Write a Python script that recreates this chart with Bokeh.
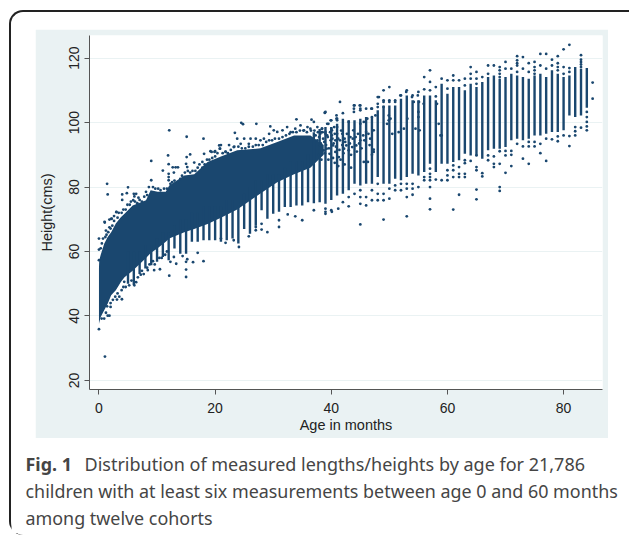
from bokeh.plotting import figure
from bokeh.layouts import column
from bokeh.core.properties import value
from bokeh.models import Range1d, FixedTicker
from bokeh.embed import file_html
from bokeh.resources import INLINE

x_ticks = [0, 20, 40, 60, 80]
y_ticks = [20, 40, 60, 80, 100, 120]
x_title = "Age in months"
y_title = "Height(cms)"
caption_bold = "Fig. 1"
caption_line1 = "Distribution of measured lengths/heights by age for 21,786"
caption_line2 = "children with at least six measurements between age 0 and 60 months"
caption_line3 = "among twelve cohorts"

# Solid cloud of the young ages: outer limits
band_age = [0, 0.05, 0.3, 0.9, 1.5, 2.1, 2.9, 3.8, 4.4, 5.8, 8.1, 8.9, 10.1, 11.5, 12.1, 14.7, 16.4, 18.7, 21, 23.8, 27.8, 30.7, 33.6, 36.4, 38.7]
band_high = [55, 57.3, 59, 62.4, 64.5, 66, 68.7, 70.7, 71.7, 74.3, 75.9, 79, 78.5, 78.5, 80.5, 83.6, 84, 87.8, 89.5, 91.4, 92, 94, 96, 96, 93]
band_low = [37.5, 38, 39.7, 41.8, 43.8, 46.4, 48, 50.6, 52, 54, 58, 59.5, 61, 63, 64, 66, 67, 68.5, 70.5, 73, 78, 81.5, 84, 86, 90]

# Monthly columns of measurements: age, lowest and highest of the unbroken run
column_age = list(range(5, 85))
column_low = [50, 49.5, 53, 54.7, 55.7, 56.8, 58.3, 57.3, 60.9, 59.3, 59.3, 63, 63, 63.5, 63.5, 63.5, 63, 63.5, 64, 62.5,
              67, 65.5, 68, 72.8, 70.2, 71.7, 72.3, 73.8, 73.8, 74.3, 74.3, 75.3, 75, 75.3,
              74.8, 76, 77.4, 77.9, 79, 81, 80.5, 81, 81, 83.1, 81, 81, 82.6, 82.1, 83.1, 84.1, 83.6, 84.7, 87.2, 84.7,
              87.2, 87.2, 87.8, 88.3, 90.3, 89.8, 89.8, 88.8, 91.4, 91.9, 91.9, 92.4, 94.5, 95, 94.5, 95, 96, 96, 96.5,
              97.1, 97.1, 97.6, 102.2, 101.7, 102.2, 104.6]
column_high = [60, 60, 60, 62, 62, 64, 66, 66, 68, 70, 70, 72, 72, 74, 74, 74, 74, 76, 76, 76,
               78, 80, 82, 82, 84, 84, 84, 86, 88, 88, 88, 90, 97, 98,
               98.6, 98.6, 99.6, 101.2, 100.7, 100.7, 101.2, 101.7, 101.7, 103.8, 105.3, 105.3, 105.3, 107.4, 108.4, 106.9, 106.9, 108.4, 108.4, 106.9,
               112, 108.9, 111, 111, 110, 112, 111, 112.6, 114.1, 114.6, 113.6, 114.1, 115.1, 114.6, 114.1, 113.6, 114.6, 115.1, 114.1,
               116.2, 115.1, 114.1, 114.6, 117.2, 116.7, 116.9]

point_age = [
    12.1, 15.1, 18.0, 11.9, 9.0, 12.0, 11.0, 12.7, 13.2, 13.6, 1.4, 1.5, 5.0, 4.0, 4.8, 4.0, 6.0, 6.4, 5.9, 6.1, 6.8, 8.1, 9.0,
    3.0, 1.0, 2.1, 1.3, 2.0, 15.7, 15.1, 18.1, 19.2, 20.0, 12, 12, 12, 12.9, 15, 15.2, 16.4, 17.8, 20.7, 20.85,
    0, 0, 0, 0, 0.97, 1.8, 2.2, 3, 0.9, 1.5, 1.8, 0.46, 2, 3.95, 3.1, 12.1, 15, 15, 18, 16.2, 13.3, 15, 15.2, 17, 14.4,
    10.5, 9.5, 8.4, 7.2, 6.1, 4.35, 12.3, 12.9, 1.03,
    24.5, 24.8, 27.1, 34, 38.9, 36.6, 39.5, 40.9, 40.9, 40, 41, 23.4, 29.5, 30.1, 29.3, 32.4, 34.7, 35.9, 37, 37.6, 33.8, 31.6, 30.7,
    28.4, 27.8, 26.1, 27, 25, 23.8, 24.4, 22.4, 21, 20.8, 21.8, 19.4, 19.9, 23.2, 25.8, 33, 35.3, 36.4, 38.4, 39, 40.1, 40.7,
    24.1, 25.8, 23.2, 21, 21.8, 27, 28, 29, 31, 31, 33.8, 35, 32.5, 37, 39, 39, 40.1, 41.2, 28, 27,
    41.5, 38.9, 43.9, 43.9, 44.9, 45, 43.9, 46.9, 48.2, 48, 49, 50, 49, 51, 51.9, 52.9, 53.9, 54.9,
    38.1, 38.6, 39, 39.4, 39.9, 40.1, 40.5, 41, 41.5, 41.9, 42.3, 42.6, 43.3, 43.8, 44.2, 44.6, 45, 45.5, 46, 46.4, 46.7, 47.3,
    47.6, 47, 46.2, 45.6, 45, 43, 41, 39.9, 39.3, 38.4, 38.1, 38.7, 39.2, 39.7, 40.3, 40.7, 41.3, 42.2, 43, 43.6, 44.3, 45.6, 46.3,
    47.3, 47.3, 49.9, 50.2, 49.9, 49.6, 52.5, 53.1, 54.5, 55, 55, 55.2, 50.5, 51.6, 54.2, 55.1, 55.9, 58.2, 58.5, 58.8,
    85, 85, 84, 84, 84, 84, 84, 83, 83, 83, 83, 83, 83, 82, 82, 82, 81, 81, 81, 81, 81, 80, 80, 80, 80,
    79, 79, 79, 79, 79, 79, 78, 78, 78, 77, 77, 77, 77, 76, 76, 76, 76, 75, 75, 75, 75, 75, 75,
    74, 74, 74, 74, 74, 73, 73, 73, 73, 72, 72, 72, 72, 72, 72, 71, 71, 71, 71, 70, 70, 70, 70, 70,
    69, 69, 69, 69, 69, 69, 69, 69, 68, 68, 68, 68, 67, 67, 67, 67, 66, 66, 66,
    65, 65, 65, 65, 65, 65, 65, 65, 64, 64, 64, 64, 63, 63, 63, 63, 63, 63, 62, 62, 62, 62, 62,
    61, 61, 61, 61, 61, 61, 60, 60, 60, 60, 60, 59, 59, 59, 58, 58, 58,
    57, 57, 57, 57, 57, 57, 57, 57, 57, 57, 56, 56, 56, 56, 55, 55, 54, 54, 54, 54,
    53, 53, 53, 53, 53, 52, 52, 52, 51, 51, 51, 50, 50, 50, 50, 49, 49, 49, 49, 49,
    48, 48, 48, 48, 48, 47, 47, 47, 46, 46, 46, 45, 45, 45, 45, 45, 45, 44, 44, 43, 43, 42, 42, 41, 40, 40, 39, 39,
    0.3, 0.5, 0.7, 1.1, 1.2, 1.6, 1.8, 2.3, 2.6, 2.6, 3.2, 3.4, 3.9, 4.2, 4.6, 4.9, 5.3, 5.5, 6.2, 6.6, 7, 7.4, 7.8, 8.3, 8.6,
    9.3, 9.7, 10.2, 10.6, 11.2, 11.7, 12.3, 12.6, 13, 13.5, 14, 14.3, 14.8, 15.3, 15.7, 16.1, 16.6, 17, 17.3, 17.8, 18.2, 18.6,
    19, 19.5, 20, 20.4, 21.3, 21.8, 22.2, 22.7, 23.3, 24, 24.6, 25.2, 25.8, 26.5, 27, 27.5, 28.2, 28.8, 29.3, 29.8, 30.3, 31,
    31.6, 32.2, 32.8, 33.4, 34, 34.6, 35.2, 35.8, 36.5, 37.1, 37.7, 38.3,
    1.2, 1.4, 2, 2.4, 2.8, 3.2, 3.5, 3.9, 4.2, 4.6, 5.2, 5.6, 6.4, 6.7, 7.4, 7.7, 8.3, 8.7, 9.3, 9.6, 10.4, 10.8, 11.4, 11.7,
    37.3, 37.6, 37.9, 38.2, 38.5, 38.8, 39.1, 39.3, 39.6, 39.8, 40.2, 40.4, 40.6, 40.8, 41.2, 41.4, 41.7, 41.9, 42.1, 42.4,
    42.7, 43.2, 43.4, 43.7, 44.4, 44.8, 45.2, 45.7, 46.6, 47, 37.8, 38.3, 38.9, 39.5, 40.3, 40.6, 41.2, 41.6, 42.3, 43.4,
]
point_height = [
    97.6, 95.6, 95.0, 89.8, 88.1, 87.1, 85.1, 86.1, 86.1, 86.1, 81.0, 77.7, 79.9, 77.7, 78.1, 76.0, 77.9, 77.9, 75.9, 77.1, 76.7, 78.5, 82.1,
    72.2, 69.0, 70.1, 65.2, 67.1, 90.1, 89.3, 90.3, 91.1, 91.1, 84.1, 83.1, 82.1, 84.5, 87.2, 86.2, 87.6, 87.8, 92.9, 91.9,
    64.0, 60.6, 57.3, 35.9, 69.2, 69.9, 70.2, 72.3, 39.2, 40.1, 40.1, 39.2, 42.8, 45.2, 45.1, 52.5, 52.1, 54.4, 57, 56.7, 56.2, 56.8, 57.6, 59.6, 58.6,
    54.5, 54.2, 54.2, 52.8, 49.5, 50.6, 56.8, 58.3, 27.4,
    99.9, 99.5, 99.6, 101, 103.1, 100.9, 99.6, 102.2, 101.2, 98.1, 98.6, 96.8, 98.8, 97.6, 96.5, 98.6, 99.1, 98.6, 100.2, 98.6, 98.1, 97.6, 97.1,
    95, 94.5, 95, 95, 95, 95, 93.4, 93, 93, 91.9, 90.9, 90.9, 90.9, 92.4, 93.4, 97, 97.6, 98.1, 98.1, 96.5, 96, 94.5,
    61.4, 64.7, 63.5, 64, 62.7, 66.6, 66.8, 66, 67.6, 69.7, 70.9, 69.7, 71.5, 72.8, 72.3, 73.3, 72.3, 73.3, 68.6, 67.6,
    106.4, 103, 105.3, 104.3, 105.3, 104.3, 103.3, 104.3, 107.9, 105.8, 106.4, 106.4, 104.8, 106.4, 108.4, 109.5, 107.9, 108.4,
    96.5, 95, 97.1, 95.5, 94.5, 97.6, 98.6, 96.5, 94.5, 96.5, 95, 92.9, 95.5, 97.6, 95.5, 96.5, 94.5, 96, 97.1, 96.5, 95, 97.6,
    102.2, 101.7, 101.2, 100.2, 99.6, 100.2, 101.2, 100.7, 99.6, 98.1, 92.9, 91.4, 91.9, 90.3, 92.9, 90.9, 89.3, 91.9, 91.4, 92.4, 92.9, 87.8, 87.8,
    90.9, 91.6, 102.2, 101.2, 100.7, 99.6, 98.1, 101.2, 98.1, 103.3, 101.7, 97.6, 96.5, 97, 106.4, 106.4, 105.8, 105.8, 99.6, 96,
    112.4, 107.4, 103.3, 101.7, 100.2, 98.8, 97.6, 120.9, 119.5, 118.8, 118, 117.2, 98.4, 98.6, 97.3, 96, 124.1, 95.8, 92.7, 116.9, 115.7, 122.7, 117.2, 115.1, 96,
    120.6, 118.4, 117.2, 116.2, 95.7, 94.2, 119.5, 117.7, 94.8, 121.3, 116.7, 95, 88.1, 121.3, 117.7, 93.4, 90.5, 118.8, 117.2, 116.2, 115.1, 94, 92.6,
    118.4, 115.7, 94, 92.6, 87.2, 120.3, 116.7, 92.6, 88.8, 120.6, 119.3, 118.4, 117.7, 115.7, 93.4, 116.7, 91.2, 90, 86.5, 118.8, 116.7, 91.2, 89.8, 84.4,
    117.2, 116.2, 115.1, 114.1, 91.1, 87.2, 80, 78.8, 117.7, 89.5, 87.2, 86.2, 117.7, 115.1, 89.8, 88.3, 114.1, 84.3, 83.3,
    115.7, 113.6, 112, 89.8, 86.2, 85.2, 79.2, 76.2, 117.2, 115.1, 113.6, 88.1, 113.6, 111.5, 88.3, 87.4, 84.1, 83.1, 113.1, 86.2, 84.1, 83.1, 77.6,
    114.6, 113.1, 86.7, 85.2, 83.1, 73, 113.1, 110.5, 85.2, 83.6, 82.1, 113.6, 96, 82.1, 111, 108.1, 82.3,
    116.2, 112.6, 110, 85.7, 84.1, 83.1, 82.1, 80, 76.4, 73.1, 114.1, 110.3, 83.1, 82.1, 109.5, 80, 108.4, 81, 79.5, 77.6,
    110, 81, 79.5, 76.9, 70.9, 108.4, 81, 79, 106.9, 80.5, 79, 111, 106.9, 79.5, 76.4, 110, 106.9, 77.9, 75.9, 69.9,
    107.9, 104.8, 81, 77.9, 75.9, 104.3, 79, 75.9, 104.3, 76.9, 74.3, 105.3, 103.8, 79, 76.9, 74.8, 68.4, 105.3, 77.9, 76.9, 74, 102.9, 75.3, 100.7, 100.7, 72.8, 103.3, 71.7,
    61, 62.5, 64, 64.5, 66.5, 66, 67.5, 68, 69.5, 71, 70.5, 72, 72, 73, 73, 74.5, 74.5, 75.5, 75.5, 75, 76, 75.5, 77, 77.5, 80,
    80, 79.5, 79.5, 79, 79.5, 79.5, 81, 81.5, 82, 81.5, 82.5, 83.5, 84.5, 85, 84.5, 85, 85, 86, 87, 86, 87, 88.5,
    88.5, 89, 89.5, 90.5, 90.5, 91, 90.5, 91.5, 92.5, 92.5, 92, 92, 92.5, 92.5, 93, 93, 93, 94, 94.5, 94.5, 95, 95,
    95.5, 96, 96.5, 97, 97, 97.5, 97.5, 97, 97.5, 97.5, 97, 97,
    41, 43, 44, 45, 46, 47, 46, 48, 49, 49, 49.5, 51, 50.5, 52, 54, 53, 55, 56, 57, 56, 58, 58, 59, 60,
    96, 94.5, 95.5, 93.5, 97, 94, 93, 96, 92, 97, 95, 93.5, 96.5, 92.5, 95, 91.5, 97.5, 93, 90.5, 94,
    96.5, 93.5, 90, 95, 91, 93.5, 92, 94.5, 93, 90, 90, 88.5, 90.5, 88.5, 89, 87.5, 86.5, 88.5, 87, 86,
]

NAVY = "#1a476f"
TINT = "#eaf2f3"
INK = "#454545"

p = figure(width=573, height=409, output_backend="svg", toolbar_location=None,
           x_range=Range1d(-1.63, 86.7), y_range=Range1d(17.2, 127),
           min_border_left=54, min_border_right=6, min_border_top=6, min_border_bottom=49,
           background_fill_color="white", border_fill_color=TINT, outline_line_color=None,
           margin=(17, 0, 0, 24), frame_align=False)

p.xgrid.visible = False
p.ygrid.ticker = FixedTicker(ticks=y_ticks)
p.ygrid.grid_line_color = TINT
p.ygrid.grid_line_width = 1.2

p.varea(x=band_age, y1=band_low, y2=band_high, fill_color=NAVY)
p.segment(x0=column_age, x1=column_age, y0=column_low, y1=column_high, line_color=NAVY, line_width=2.4)
p.scatter(x=point_age, y=point_height, size=2.8, fill_color=NAVY, line_color=None)

for ax, ticks in ((p.xaxis[0], x_ticks), (p.yaxis[0], y_ticks)):
    ax.ticker = FixedTicker(ticks=ticks)
    ax.axis_line_color = "#555555"
    ax.major_tick_line_color = "#555555"
    ax.major_tick_in = 0
    ax.major_tick_out = 5
    ax.minor_tick_line_color = None
    ax.major_label_text_font = "Liberation Sans"
    ax.major_label_text_font_size = "14px"
    ax.major_label_text_color = "#222222"
    ax.axis_label_text_font = "Liberation Sans"
    ax.axis_label_text_font_style = "normal"
    ax.axis_label_text_font_size = "14.5px"
    ax.axis_label_text_color = "#222222"
p.yaxis[0].major_label_orientation = "vertical"
p.xaxis[0].axis_label = x_title
p.yaxis[0].axis_label = y_title
p.xaxis[0].major_label_standoff = 8
p.xaxis[0].axis_label_standoff = 1
p.yaxis[0].major_label_standoff = 5
p.yaxis[0].axis_label_standoff = 12

cap = figure(width=618, height=95, output_backend="svg", toolbar_location=None,
             x_range=Range1d(0, 618), y_range=Range1d(95, 0), x_axis_type=None, y_axis_type=None,
             min_border=0, outline_line_color=None, border_fill_color="white", background_fill_color="white",
             frame_align=False)
cap.grid.visible = False
for text, x, y, style, size in ((caption_bold, 14, 25, "bold", "17.9px"), (caption_line1, 73, 25, "normal", "18px"),
                                (caption_line2, 14, 52, "normal", "17.9px"), (caption_line3, 14, 79, "normal", "17.9px")):
    cap.text(x=[x], y=[y], text=[text], text_font=value("Noto Sans"), text_font_size=size,
             text_font_style=style, text_color=INK, text_baseline="middle", text_align="left")

page = column(p, cap, spacing=0, width=620, height=523, margin=(10, 0, 0, 9),
              styles={"border-top": "2px solid #222222", "border-left": "2px solid #222222",
                      "border-top-left-radius": "14px", "border-bottom-left-radius": "14px",
                      "box-sizing": "content-box"})

open("out.html", "w").write(file_html(page, INLINE))
